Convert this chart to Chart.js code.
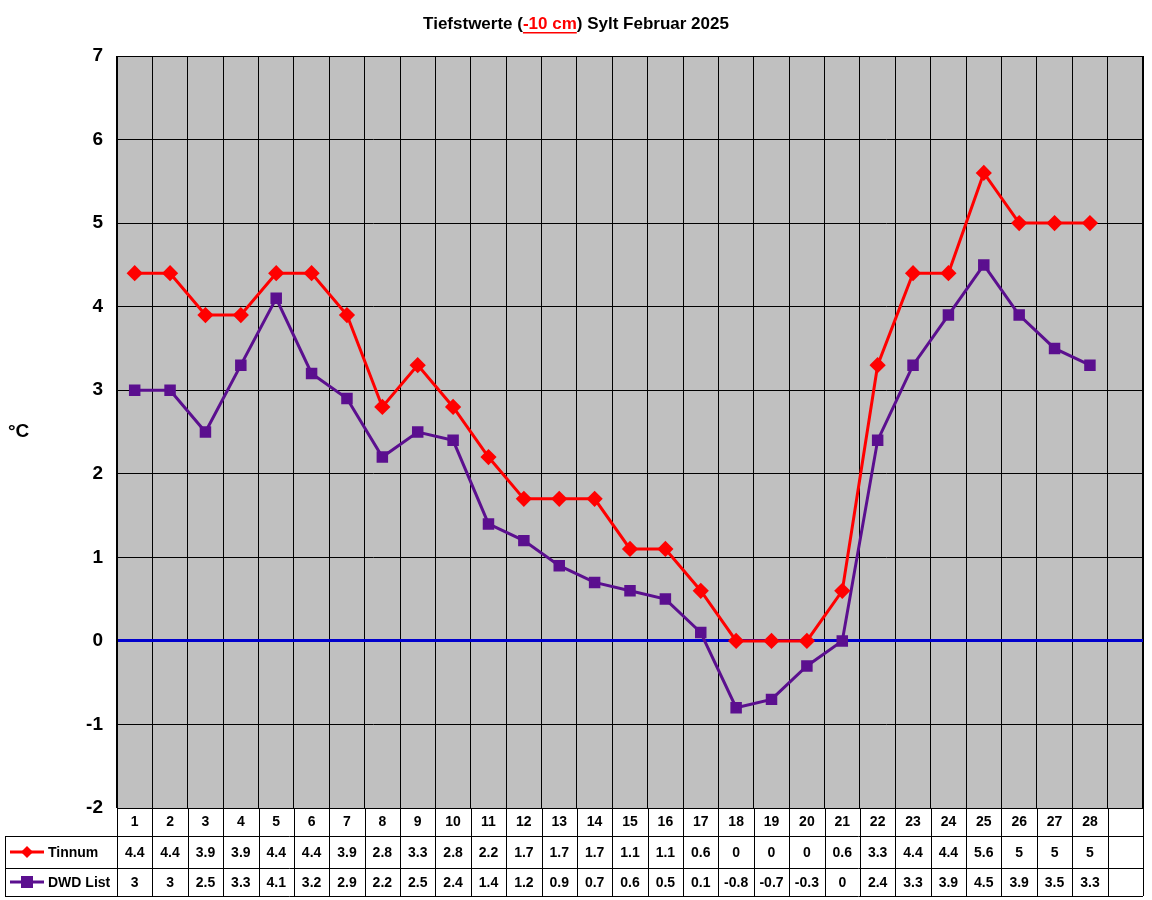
<!DOCTYPE html>
<html><head><meta charset="utf-8">
<script src="https://cdn.jsdelivr.net/npm/chart.js@4/dist/chart.umd.min.js"></script>
<style>body{margin:0;background:#fff}</style></head>
<body><canvas id="c" width="1152" height="900"></canvas>
<script>
const days = ['1','2','3','4','5','6','7','8','9','10','11','12','13','14','15','16','17','18','19','20','21','22','23','24','25','26','27','28',''];
const tinnum = [4.4,4.4,3.9,3.9,4.4,4.4,3.9,2.8,3.3,2.8,2.2,1.7,1.7,1.7,1.1,1.1,0.6,0,0,0,0.6,3.3,4.4,4.4,5.6,5,5,5];
const dwd = [3,3,2.5,3.3,4.1,3.2,2.9,2.2,2.5,2.4,1.4,1.2,0.9,0.7,0.6,0.5,0.1,-0.8,-0.7,-0.3,0,2.4,3.3,3.9,4.5,3.9,3.5,3.3];
const seriesNames = ['Tinnum','DWD List'];
const RED='#FF0000', PURPLE='#5B0F8F';
const F='Arial, "Liberation Sans", sans-serif';

const deco = {
  id:'deco',
  beforeDraw(c){
    const {ctx,chartArea:a}=c;
    ctx.save();ctx.fillStyle='#C0C0C0';ctx.fillRect(a.left,a.top,a.right-a.left,a.bottom-a.top);ctx.restore();
  },
  afterDraw(c){
    const {ctx,chartArea:a,scales:{x}}=c;
    ctx.save();
    // title
    ctx.font='bold 17px '+F;ctx.textBaseline='middle';
    const p1='Tiefstwerte (',p2='-10 cm',p3=') Sylt Februar 2025';
    const w=ctx.measureText(p1+p2+p3).width;let tx=576-w/2;
    ctx.fillStyle='#000';ctx.textAlign='left';ctx.fillText(p1,tx,24);tx+=ctx.measureText(p1).width;
    ctx.fillStyle=RED;ctx.fillText(p2,tx,24);const w2=ctx.measureText(p2).width;
    ctx.fillRect(tx,32,w2,1.5);tx+=w2;
    ctx.fillStyle='#000';ctx.fillText(p3,tx,24);
    // y title
    ctx.font='bold 19px '+F;ctx.fillText('°C',8,432);
    // plot border
    ctx.strokeStyle='#000';ctx.lineWidth=1;ctx.strokeRect(a.left+.5,a.top+.5,a.right-a.left,a.bottom-a.top);
    // table
    const rows=[a.bottom,836,868,896];
    ctx.beginPath();
    ctx.moveTo(a.left,rows[0]+.5);ctx.lineTo(a.right,rows[0]+.5);
    for(let i=1;i<4;i++){ctx.moveTo(5,rows[i]+.5);ctx.lineTo(a.right,rows[i]+.5);}
    ctx.moveTo(5.5,836);ctx.lineTo(5.5,896);
    const cw=(a.right-a.left)/days.length;
    for(let i=0;i<=days.length;i++){const xx=Math.round(a.left+i*cw)+.5;ctx.moveTo(xx,rows[0]);ctx.lineTo(xx,896);}
    ctx.stroke();
    ctx.font='bold 14px '+F;ctx.textAlign='center';ctx.fillStyle='#000';
    days.forEach((d,i)=>{const px=x.getPixelForValue(i);
      ctx.fillText(d,px,822);
      if(i<tinnum.length){ctx.fillText(String(tinnum[i]),px,853);ctx.fillText(String(dwd[i]),px,883);}
    });
    // legend
    const leg=[[RED,852,'d'],[PURPLE,882,'s']];
    leg.forEach(([col,yy,m],k)=>{
      ctx.strokeStyle=col;ctx.fillStyle=col;ctx.lineWidth=3;
      ctx.beginPath();ctx.moveTo(10,yy);ctx.lineTo(44,yy);ctx.stroke();
      if(m==='d'){ctx.beginPath();ctx.moveTo(27,yy-6);ctx.lineTo(33,yy);ctx.lineTo(27,yy+6);ctx.lineTo(21,yy);ctx.fill();}
      else ctx.fillRect(21,yy-6,12,12);
      ctx.fillStyle='#000';ctx.textAlign='left';ctx.font='bold 14px '+F;ctx.fillText(seriesNames[k],48,yy+1);
    });
    ctx.restore();
  }
};

new Chart(document.getElementById('c'),{
  type:'line',
  data:{labels:days,datasets:[
    {label:seriesNames[0],data:tinnum,borderColor:RED,backgroundColor:RED,borderWidth:3,pointStyle:'rectRot',pointRadius:6,pointHoverRadius:6,tension:0},
    {label:seriesNames[1],data:dwd,borderColor:PURPLE,backgroundColor:PURPLE,borderWidth:3,pointStyle:'rect',pointRadius:6,pointHoverRadius:6,tension:0}
  ]},
  options:{responsive:false,animation:false,
    layout:{padding:{top:56,bottom:92,right:5,left:0}},
    plugins:{legend:{display:false},tooltip:{enabled:false}},
    scales:{
      x:{offset:true,grid:{offset:true,color:'#000',lineWidth:1,drawTicks:false},border:{display:false},ticks:{display:false},
        afterFit(s){s.height=0;}},
      y:{min:-2,max:7,ticks:{stepSize:1,color:'#000',font:{family:F,size:19,weight:'bold'},padding:14},
        grid:{color:ctx=>ctx.tick&&ctx.tick.value===0?'#0000CC':'#000',lineWidth:ctx=>ctx.tick&&ctx.tick.value===0?3:1,drawTicks:false},
        border:{display:false},afterFit(s){s.width=117;}}
    }
  },
  plugins:[deco]
});
</script></body></html>
